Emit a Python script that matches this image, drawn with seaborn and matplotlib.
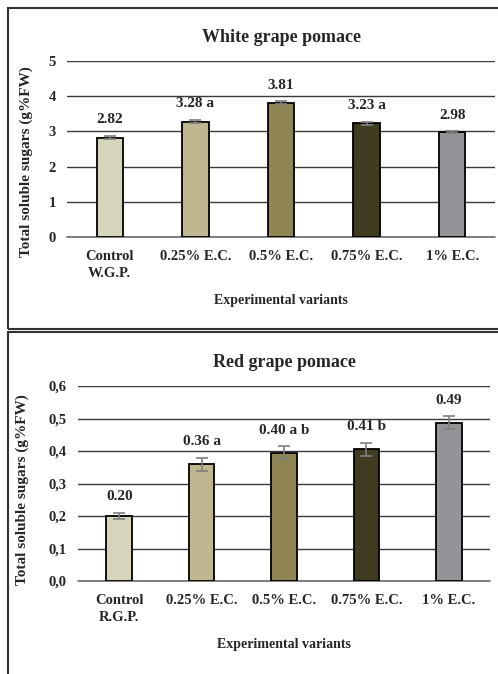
import seaborn as sns
import matplotlib.pyplot as plt
from matplotlib.patches import Rectangle
import pandas as pd

# ---------------- data ----------------
white_labels = ['Control\nW.G.P.', '0.25% E.C.', '0.5% E.C.', '0.75% E.C.', '1% E.C.']
white_values = [2.82, 3.28, 3.81, 3.23, 2.98]
white_err = [0.05, 0.05, 0.04, 0.05, 0.03]
white_text = ['2.82', '3.28 a', '3.81', '3.23 a', '2.98']

red_labels = ['Control\nR.G.P.', '0.25% E.C.', '0.5% E.C.', '0.75% E.C.', '1% E.C.']
red_values = [0.20, 0.36, 0.395, 0.405, 0.487]
red_err = [0.01, 0.02, 0.02, 0.02, 0.02]
red_text = ['0.20', '0.36 a', '0.40 a b', '0.41 b', '0.49']

bar_colors = ['#D6D4BB', '#BFB790', '#8E8553', '#403C21', '#939497']

sns.set_style('white')
plt.rcParams['font.family'] = ['Liberation Serif', 'DejaVu Serif']
plt.rcParams['font.weight'] = 'bold'

fig = plt.figure(figsize=(4.98, 6.74), dpi=100)
W, H = 498, 674


def box(x0, y0, x1, y1):
    # pixel coords (top-left origin) -> figure fraction
    return [x0 / W, 1 - y1 / H, (x1 - x0) / W, (y1 - y0) / H]


def panel(ax, labels, values, err, texts, ymax, step, fmt, title, off, ylab_xy):
    df = pd.DataFrame({'variant': labels, 'value': values})
    sns.barplot(data=df, x='variant', y='value', hue='variant', palette=bar_colors,
                legend=False, width=0.31, edgecolor='black', linewidth=1.3,
                saturation=1, errorbar=None, ax=ax, zorder=3)
    ax.errorbar(range(len(values)), values, yerr=err, fmt='none', ecolor='#7f7f7f',
                elinewidth=1.2, capsize=4, capthick=1.2, zorder=4)
    for i, (v, e, t) in enumerate(zip(values, err, texts)):
        ax.annotate(t, (i, v + e), xytext=(0, 16), textcoords='offset pixels',
                    ha='center', va='center', fontsize=11, fontweight='bold')
    ax.set_xlim(-0.5, len(values) - 0.5)
    ax.set_ylim(0, ymax)
    ticks = [round(k * step, 2) for k in range(int(round(ymax / step)) + 1)]
    ax.set_yticks(ticks)
    ax.set_yticklabels([fmt(t) for t in ticks], fontsize=10.5, fontweight='bold')
    ax.tick_params(axis='x', labelsize=10.5, length=0, pad=9)
    ax.tick_params(axis='y', length=0, pad=8)
    for lab in ax.get_xticklabels():
        lab.set_fontweight('bold')
        lab.set_linespacing(1.45)
    ax.grid(axis='y', color='#3a3a3a', linewidth=1.0, zorder=0)
    ax.axhline(0, color='#6a6a6a', linewidth=1.2, clip_on=False, zorder=2)
    ax.set_axisbelow(True)
    sns.despine(ax=ax, left=True, top=True, right=True, bottom=True)
    ax.set_xlabel('Experimental variants', fontsize=10, fontweight='bold', labelpad=10)
    ax.set_ylabel('Total soluble sugars (g%FW)', fontsize=11, fontweight='bold')
    ax.yaxis.set_label_coords(*ylab_xy)
    ax.set_title(title, fontsize=13, fontweight='bold', pad=off)


ax1 = fig.add_axes(box(67, 61, 495, 237))
panel(ax1, white_labels, white_values, white_err, white_text, 5, 1,
      lambda t: f'{int(t)}', 'White grape pomace', 14, (-0.08, 0.43))

ax2 = fig.add_axes(box(78, 386, 490, 581))
panel(ax2, red_labels, red_values, red_err, red_text, 0.6, 0.1,
      lambda t: f'{t:.1f}'.replace('.', ','), 'Red grape pomace', 14, (-0.12, 0.47))

# panel frames
fig.patches.append(Rectangle((8 / W, 1 - 329 / H), 1, 321 / H, transform=fig.transFigure,
                             fill=False, edgecolor='#333333', linewidth=1.5))
fig.patches.append(Rectangle((8 / W, -0.1), 1, (674 - 332) / H + 0.1, transform=fig.transFigure,
                             fill=False, edgecolor='#333333', linewidth=1.5))

fig.savefig('out.png', dpi=100)
